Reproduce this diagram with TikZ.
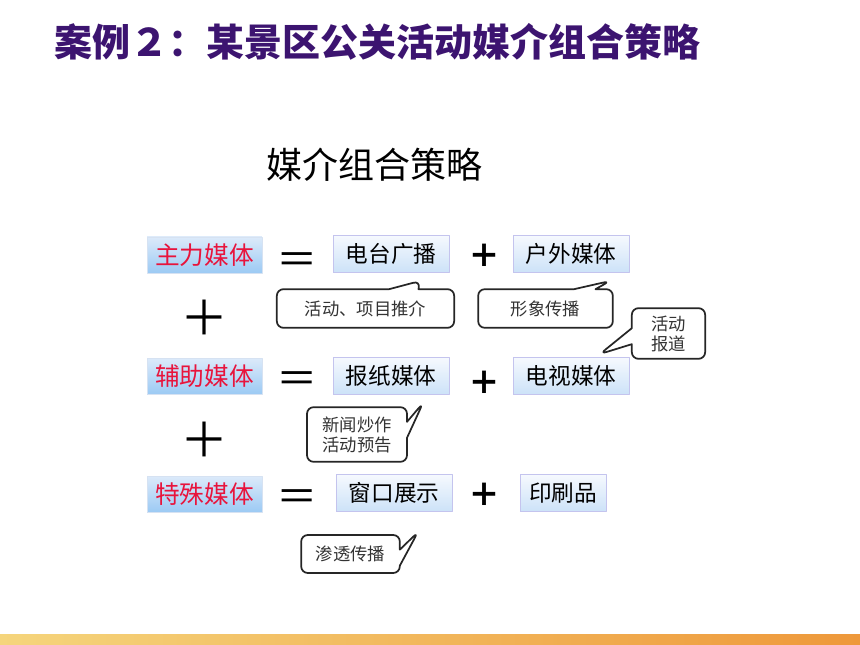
\documentclass[tikz,border=0pt]{standalone}
\usepackage{fontspec}
\setmainfont{Noto Sans CJK SC}
\usetikzlibrary{shapes.callouts}
\definecolor{titlepurple}{HTML}{3C1470}
\definecolor{lblred}{HTML}{E8143C}
\definecolor{lbltop}{HTML}{DCEAFA}
\definecolor{lblbot}{HTML}{9CCAF4}
\definecolor{lblline}{HTML}{D6E2F2}
\definecolor{medtop}{HTML}{F6F9FE}
\definecolor{medbot}{HTML}{CCE2F8}
\definecolor{medline}{HTML}{C4C4EE}
\definecolor{barL}{HTML}{F5D57C}
\definecolor{barR}{HTML}{EE983A}
\begin{document}
\begin{tikzpicture}[x=0.75pt,y=-0.75pt,line join=round,line cap=round,
	lbl/.style={rectangle,draw=lblline,top color=lbltop,bottom color=lblbot,text=lblred,minimum width=86pt,minimum height=27pt,inner sep=0pt,font=\fontsize{18.5}{20}\selectfont},
	med/.style={rectangle,draw=medline,top color=medtop,bottom color=medbot,minimum width=87pt,minimum height=28pt,inner sep=0pt,font=\fontsize{17}{19}\selectfont},
	note/.style={rectangle callout,rounded corners=5pt,draw=black!85,line width=1.3pt,fill=white,align=center,inner sep=0pt,callout pointer width=12pt,text=black!80,font=\fontsize{13}{15}\selectfont},
	sign/.style={inner sep=0pt,font=\fontsize{24}{26}\selectfont\bfseries}]
	\useasboundingbox (0,0) rectangle (860,645);
	\shade[left color=barL,right color=barR] (0,634) rectangle (860,645);
	% Tiêu đề
	\node[anchor=west,text=titlepurple,font=\fontsize{28.5}{30}\selectfont\bfseries] (title) at (50,42) {案例２：某景区公关活动媒介组合策略};
	\node[font=\fontsize{27}{29}\selectfont] (sub) at (374,165) {媒介组合策略};
	% Hàng 1
	\node[lbl] (l1) at (204.5,255) {主力媒体};
	\node[med] (m11) at (391,254) {电台广播};
	\node[med] (m12) at (571,254) {户外媒体};
	% Hàng 2
	\node[lbl] (l2) at (204.5,376) {辅助媒体};
	\node[med] (m21) at (391,376) {报纸媒体};
	\node[med] (m22) at (571,376) {电视媒体};
	% Hàng 3
	\node[lbl] (l3) at (204.5,494) {特殊媒体};
	\node[med] (m31) at (394,493) {窗口展示};
	\node[med,minimum width=64.5pt] (m32) at (563,493) {印刷品};
	% Dấu
	\foreach \y/\n in {264/1,383/2,501/3}
	\node[sign,font=\fontsize{31}{33}\selectfont] (eq\n) at (297,\y) {＝};
	\foreach \y/\n in {256/1,383/2,495/3}
	\node[sign] (pl\n) at (484,\y) {＋};
	\foreach \y/\n in {318/1,440/2}
	\node[sign,font=\fontsize{36}{38}\selectfont] (bp\n) at (204,\y) {＋};
	% Chú thích
	\coordinate (t1) at (420,281);
	\coordinate (t2) at (610,281);
	\coordinate (t3) at (600,354);
	\coordinate (t4) at (423,403);
	\coordinate (t5) at (418,532);
	\node[note,minimum width=133pt,minimum height=29pt,callout pointer width=22pt,callout absolute pointer={(t1)}] (c1) at (365.5,308.5) {活动、项目推介};
	\node[note,minimum width=101pt,minimum height=29pt,callout pointer width=16pt,callout absolute pointer={(t2)}] (c2) at (545.5,308.5) {形象传播};
	\node[note,minimum width=55pt,minimum height=38pt,callout absolute pointer={(t3)}] (c3) at (668.5,333.5) {活动\\报道};
	\node[note,minimum width=75pt,minimum height=41pt,callout absolute pointer={(t4)}] (c4) at (357,434.5) {新闻炒作\\活动预告};
	\node[note,minimum width=74pt,minimum height=28.5pt,callout absolute pointer={(t5)}] (c5) at (350.5,554) {渗透传播};
\end{tikzpicture}
\end{document}
